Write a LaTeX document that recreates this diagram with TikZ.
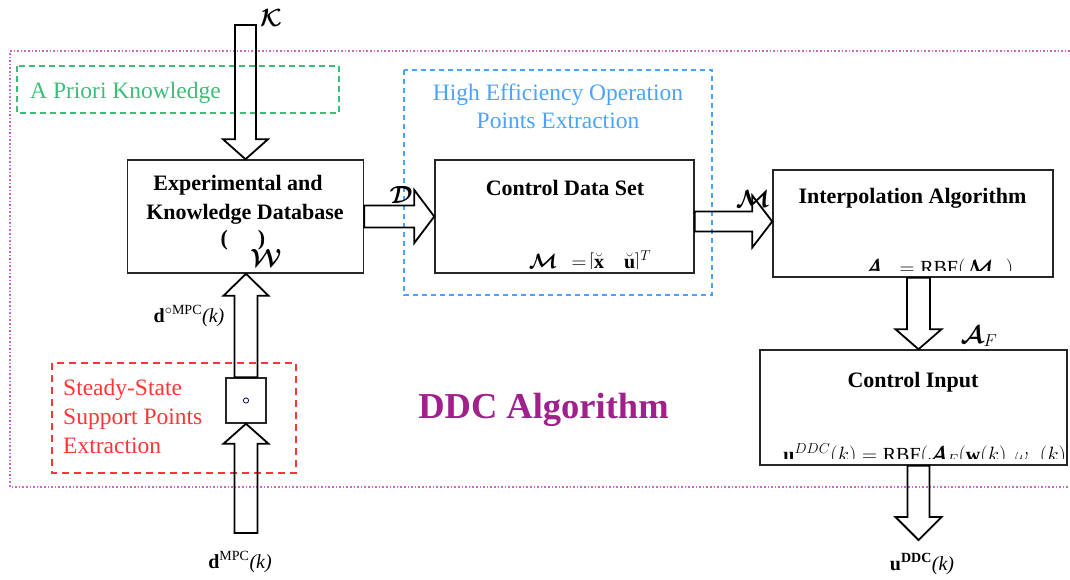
\documentclass[tikz,border=0pt]{standalone}
\usepackage{bm}
\usepackage{fontspec}
\setmainfont{Liberation Serif}
\usetikzlibrary{calc}

\definecolor{frameM}{HTML}{CC66CC}
\definecolor{kgreen}{HTML}{3DBE78}
\definecolor{kblue}{HTML}{4AA3FF}
\definecolor{kred}{HTML}{FF3535}
\definecolor{ddc}{HTML}{A0208C}

% vertical block arrow: start, tip, shaft half width, head half width, signed head length
\newcommand{\vfat}[5]{%
  \draw[fat] ($(#1)+({-(#3)},0)$) -- ($(#2)+({-(#3)},{-(#5)})$) -- ($(#2)+({-(#4)},{-(#5)})$)
    -- (#2) -- ($(#2)+(#4,{-(#5)})$) -- ($(#2)+(#3,{-(#5)})$) -- ($(#1)+(#3,0)$) -- cycle;}
% horizontal block arrow pointing right
\newcommand{\hfat}[5]{%
  \draw[fat] ($(#1)+(0,{-(#3)})$) -- ($(#2)+({-(#5)},{-(#3)})$) -- ($(#2)+({-(#5)},{-(#4)})$)
    -- (#2) -- ($(#2)+({-(#5)},#4)$) -- ($(#2)+({-(#5)},#3)$) -- ($(#1)+(0,#3)$) -- cycle;}

\begin{document}
\begin{tikzpicture}[x=1pt,y=-1pt,
  blk/.style={draw=black!85,line width=1.5pt,fill=white,inner sep=0pt,rectangle},
  fat/.style={draw=black,line width=1.8pt,line join=miter},
  ttl/.style={font=\fontsize{22}{26}\selectfont\bfseries,anchor=base,inner sep=0pt},
  lbl/.style={font=\fontsize{23.5}{27}\selectfont,anchor=base west,inner sep=0pt},
  sig/.style={font=\fontsize{20}{24}\selectfont,anchor=base,inner sep=0pt},
  frm/.style={font=\fontsize{20}{24}\selectfont,anchor=base,inner sep=0pt},
  scr/.style={anchor=base,inner sep=0pt}]

\useasboundingbox (0,0) rectangle (1070,579);

% DDC algorithm frame (open on the right)
\draw[frameM,line width=1.6pt,dotted] (1070,51) -- (10,51) -- (10,487) -- (1070,487);

% dashed group frames
\draw[kgreen,line width=1.6pt,dash pattern=on 6pt off 4pt] (17,66) rectangle (339,113);
\draw[kblue,line width=1.3pt,dash pattern=on 5pt off 4pt] (404,70) rectangle (712,295);
\draw[kred,line width=1.5pt,dash pattern=on 7pt off 5pt] (52,363) rectangle (296,473);

% blocks
\node[blk,minimum width=236pt,minimum height=113pt] (exp) at (245.5,216.5) {};
\node[blk,minimum width=259pt,minimum height=113pt] (cds) at (564.5,216.5) {};
\node[blk,minimum width=280pt,minimum height=107pt] (interp) at (913,223.5) {};
\node[blk,minimum width=307pt,minimum height=115pt] (ctrl) at (913.5,407.5) {};
\node[blk,minimum width=40pt,minimum height=45pt] (sb) at (246,400.5) {};
\draw[black!70!blue,line width=0.8pt] (sb.center) circle (2.6pt);

% block titles
\node[ttl] (exp1) at (238,190) {Experimental and};
\node[ttl] (exp2) at (245,219) {Knowledge Database};
\node[ttl] (exp3) at (243,245) {(\hspace{30pt})};
\node[ttl] (cdsT) at (565,195) {Control Data Set};
\node[ttl] (intT) at (912.5,203) {Interpolation Algorithm};
\node[ttl] (ctlT) at (913,387) {Control Input};

% formulas, cut off by the lower edge of their blocks
\begin{scope}
  \clip ($(cds.south west)+(0,-5)$) rectangle (cds.north east);
  \node[frm] (cdsF) at (590,268) {$\bm{\mathcal{M}}_{\hphantom{E}}\!=\![\breve{\mathbf{x}}\quad\breve{\mathbf{u}}]^{T}$};
\end{scope}
\begin{scope}
  \clip ($(interp.south west)+(0,-7)$) rectangle (interp.north east);
  \node[frm] (intF) at (938,274) {$\bm{\mathcal{A}}_{\hphantom{E}}=\mathrm{RBF}(\bm{\mathcal{M}}_{\hphantom{E}})$};
\end{scope}
\begin{scope}
  \clip ($(ctrl.south west)+(0,-7)$) rectangle (ctrl.north east);
  \node[frm] (ctlF) at (932,461) {$\mathbf{u}^{DDC}(k)=\mathrm{RBF}(\bm{\mathcal{A}}_{F}(\mathbf{w}(k),\omega_{\hphantom{E}}(k)))$};
\end{scope}

% connectors
\coordinate (kin) at (245.5,25);
\vfat{kin}{exp.north}{10.5}{22.5}{20}
\hfat{exp.east}{cds.west}{11}{26.5}{20}
\coordinate (mA) at ($(cds.east)+(0,5)$);
\coordinate (mB) at (interp.west |- mA);
\hfat{mA}{mB}{10}{26}{20}
\coordinate (iA) at ($(interp.south)+(5.5,0)$);
\coordinate (iB) at (iA |- ctrl.north);
\vfat{iA}{iB}{11.5}{23}{20}
\coordinate (uA) at ($(ctrl.south)+(5,0)$);
\coordinate (uB) at (918.5,540);
\vfat{uA}{uB}{11}{23}{23}
\coordinate (dIn) at (246,533);
\vfat{dIn}{sb.south}{11.5}{22.5}{-20}
\coordinate (eB) at (sb.north |- exp.south);
\vfat{sb.north}{eB}{11.5}{22.5}{-22}

% connector symbols
\node[scr,font=\fontsize{30}{32}\selectfont] (Ksym) at (271,26) {$\bm{\mathcal{K}}$};
\node[scr,font=\fontsize{23}{26}\selectfont] (Dsym) at (401,203) {$\bm{\mathcal{D}}$};
\node[scr,font=\fontsize{23}{26}\selectfont] (Wsym) at (266,266) {$\bm{\mathcal{W}}$};
\node[scr,font=\fontsize{23}{26}\selectfont] (Msym) at (753,207) {$\bm{\mathcal{M}}$};
\node[scr,font=\fontsize{24}{26}\selectfont] (AFsym) at (979,343) {$\bm{\mathcal{A}}_{F}$};

% signals
\node[sig] (dstar) at (189,322) {\textbf{d}\textsuperscript{$\circ$MPC}\textit{(k)}};
\node[sig] (dmpc) at (240,568) {\textbf{d}\textsuperscript{MPC}\textit{(k)}};
\node[sig] (uddc) at (922,570) {\textbf{u}\textsuperscript{\textbf{DDC}}\textit{(k)}};

% group captions
\node[lbl,text=kgreen] (gK) at (30,98) {A Priori Knowledge};
\node[lbl,text=kblue,anchor=base] (gH1) at (558,100) {High Efficiency Operation};
\node[lbl,text=kblue,anchor=base] (gH2) at (558,128) {Points Extraction};
\node[lbl,text=kred] (gS1) at (63,395) {Steady-State};
\node[lbl,text=kred] (gS2) at (63,424) {Support Points};
\node[lbl,text=kred] (gS3) at (63,453) {Extraction};

\node[anchor=base,inner sep=0pt,text=ddc,font=\fontsize{36.5}{40}\selectfont\bfseries] (ddcT) at (543.5,418) {DDC Algorithm};

\end{tikzpicture}
\end{document}
